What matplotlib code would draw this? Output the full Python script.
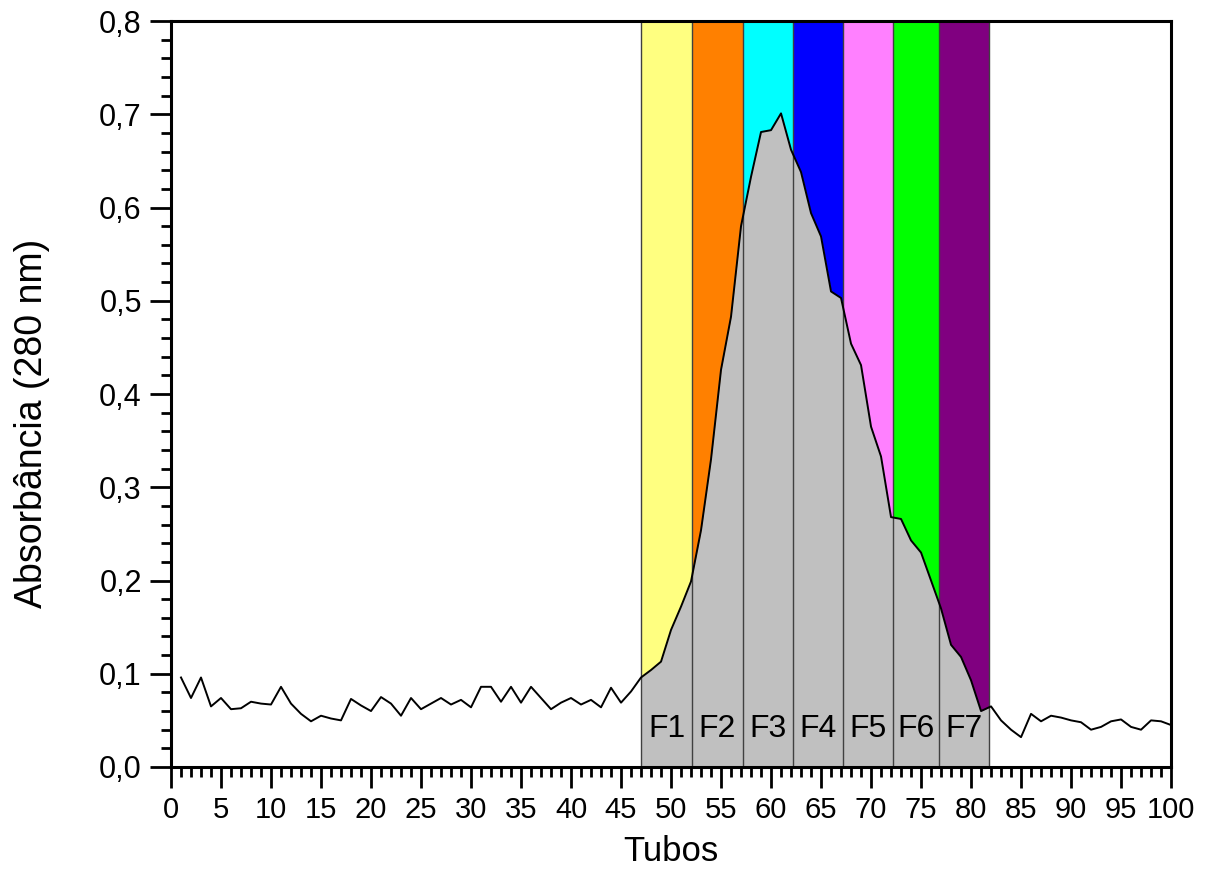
import numpy as np
import matplotlib
matplotlib.use("Agg")
import matplotlib.pyplot as plt
from matplotlib.ticker import MultipleLocator, FuncFormatter

plt.rcParams['font.family'] = ['Liberation Sans', 'DejaVu Sans']

# absorbance per tube
tubos = np.arange(1, 101)
absorb = [0.096, 0.074, 0.096, 0.065, 0.074, 0.062, 0.063, 0.070, 0.068, 0.067,
          0.086, 0.068, 0.057, 0.049, 0.055, 0.052, 0.050, 0.073, 0.066, 0.060,
          0.075, 0.068, 0.055, 0.074, 0.062, 0.068, 0.074, 0.067, 0.072, 0.064,
          0.086, 0.086, 0.070, 0.086, 0.069, 0.086, 0.074, 0.062, 0.069, 0.074,
          0.067, 0.072, 0.064, 0.085, 0.069, 0.081, 0.096, 0.104, 0.113, 0.147,
          0.172, 0.199, 0.254, 0.330, 0.426, 0.483, 0.580, 0.633, 0.681, 0.683,
          0.701, 0.662, 0.638, 0.594, 0.569, 0.510, 0.503, 0.454, 0.431, 0.365,
          0.333, 0.268, 0.266, 0.243, 0.230, 0.200, 0.170, 0.131, 0.118, 0.093,
          0.060, 0.065, 0.050, 0.040, 0.032, 0.057, 0.049, 0.055, 0.053, 0.050,
          0.048, 0.040, 0.043, 0.049, 0.051, 0.043, 0.040, 0.050, 0.049, 0.045]

# fraction limits (tubes) and colours
limites = [47, 52.1, 57.2, 62.2, 67.2, 72.2, 76.8, 81.8]
fracoes = ["F1", "F2", "F3", "F4", "F5", "F6", "F7"]
cores = ["#FFFF80", "#FF8000", "#00FFFF", "#0000FF", "#FF80FF", "#00FF00", "#800080"]

fig = plt.figure(figsize=(12.11, 8.81), dpi=100)
ax = fig.add_axes([0.1412, 0.1294, 0.8258, 0.8467])

for i in range(len(fracoes)):
    ax.axvspan(limites[i], limites[i + 1], ymin=0, ymax=1, color=cores[i], lw=0, zorder=1)

# gray area under the curve inside the fractions
xf = np.linspace(limites[0], limites[-1], 800)
xf = np.unique(np.concatenate([xf, tubos[(tubos > limites[0]) & (tubos < limites[-1])]]))
yf = np.interp(xf, tubos, absorb)
ax.fill_between(xf, 0, yf, color="#C0C0C0", lw=0, zorder=2)

for b in limites:
    ax.axvline(b, color="#404040", lw=1.0, zorder=3)

ax.plot(tubos, absorb, color="black", lw=1.4, zorder=4)

for i, f in enumerate(fracoes):
    xc = (limites[i] + limites[i + 1]) / 2
    ax.text(xc, 0.025, f, ha="center", va="bottom", fontsize=23, zorder=5)

ax.set_xlim(0, 100)
ax.set_ylim(0, 0.8)
ax.xaxis.set_major_locator(MultipleLocator(5))
ax.xaxis.set_minor_locator(MultipleLocator(1))
ax.yaxis.set_major_locator(MultipleLocator(0.1))
ax.yaxis.set_minor_locator(MultipleLocator(0.02))
ax.yaxis.set_major_formatter(FuncFormatter(lambda v, p: ("%.1f" % v).replace(".", ",")))

ax.tick_params(which="major", direction="out", length=15, width=2, pad=6)
ax.tick_params(which="minor", direction="out", length=7, width=2)
ax.tick_params(axis="x", labelsize=21)
ax.tick_params(axis="y", labelsize=22)
for s in ax.spines.values():
    s.set_linewidth(2.2)
    s.set_zorder(6)

ax.set_xlabel("Tubos", fontsize=25, labelpad=8)
ax.set_ylabel("Absorbância (280 nm)", fontsize=27)
ax.yaxis.set_label_coords(-0.121, 0.46)

fig.savefig("out.png", dpi=100)
